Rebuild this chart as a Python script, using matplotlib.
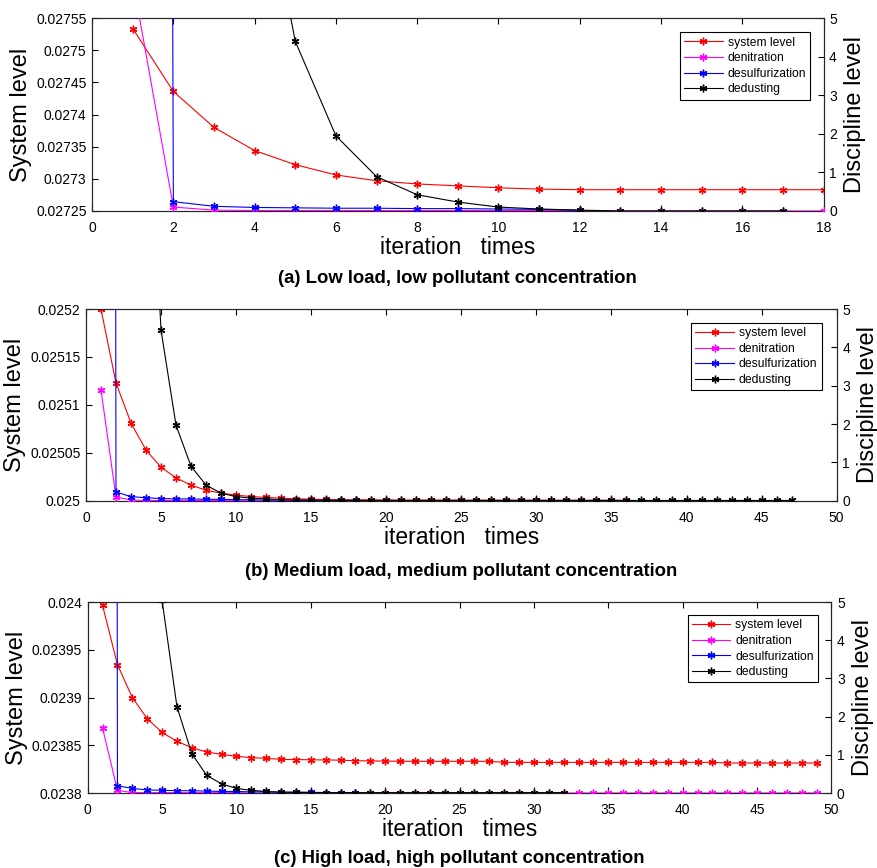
import matplotlib
matplotlib.use("Agg")
import matplotlib.pyplot as plt
import numpy as np
from matplotlib.ticker import FuncFormatter

plt.rcParams["font.family"] = ["Liberation Sans", "DejaVu Sans"]

# ---- panel (a): low load, low pollutant concentration
sys_a = [0.027534, 0.027436, 0.02738, 0.027344, 0.027322, 0.027306, 0.027297, 0.027292, 0.027289,
         0.027286, 0.027284, 0.027283, 0.027283, 0.027283, 0.027283, 0.027283, 0.027283, 0.027283]
den_a = [6.0, 0.1, 0.02, 0.01, 0.01, 0.01, 0.01, 0.01, 0.01, 0.01, 0.01, 0.01, 0.0, 0.0, 0.0, 0.0, 0.0, 0.0]
des_a = [300, 0.24, 0.12, 0.09, 0.08, 0.07, 0.07, 0.06, 0.06, 0.05, 0.04, 0.02]
ded_a = [60, 32, 17, 9.9, 4.4, 1.95, 0.89, 0.42, 0.23, 0.1, 0.05, 0.02, 0.0, 0.0, 0.0, 0.0, 0.0]

# ---- panel (b): medium load, medium pollutant concentration
sys_b = [0.02520, 0.025123, 0.025081, 0.025053, 0.025035, 0.025024, 0.0250163, 0.0250111, 0.025008,
         0.0250059, 0.0250045, 0.0250035, 0.0250028, 0.0250021, 0.0250017, 0.0250014, 0.0250012,
         0.0250011, 0.025001, 0.0250009, 0.0250008, 0.0250008, 0.0250008, 0.0250008, 0.0250008,
         0.0250007, 0.0250007, 0.0250007, 0.0250007, 0.0250007, 0.0250006, 0.0250006, 0.0250006,
         0.0250006, 0.0250006, 0.0250006]
den_b = [2.9, 0.1, 0.02, 0.01, 0.01, 0.01, 0.01, 0.01, 0.01, 0.0, 0.0, 0.0, 0.0, 0.0, 0.0, 0.0]
des_b = [300, 0.23, 0.11, 0.08, 0.06, 0.05, 0.05, 0.04, 0.04, 0.03, 0.03, 0.02, 0.02, 0.02, 0.01, 0.01, 0.01, 0.01]
ded_b = [70, 40, 22, 12, 4.45, 1.97, 0.9, 0.41, 0.2, 0.11, 0.07, 0.05, 0.03, 0.02, 0.02, 0.01, 0.01,
         0.01, 0.01, 0.01, 0.01, 0.01, 0.01, 0.01, 0.01, 0.01, 0.01, 0.01, 0.01, 0.01, 0.01, 0.01,
         0.01, 0.01, 0.01, 0.01, 0.01, 0.01, 0.01, 0.01, 0.01, 0.01, 0.01, 0.01, 0.01, 0.01, 0.01]

# ---- panel (c): high load, high pollutant concentration
sys_c = [0.0239965, 0.0239344, 0.0239, 0.0238778, 0.0238635, 0.0238541, 0.0238475, 0.0238429, 0.0238405,
         0.0238384, 0.023837, 0.0238363, 0.0238352, 0.023835, 0.0238348, 0.0238346, 0.0238344, 0.0238338,
         0.0238336, 0.0238334, 0.0238332, 0.0238332, 0.0238332, 0.0238332, 0.0238332, 0.0238332, 0.0238332,
         0.0238321, 0.0238321, 0.0238321, 0.0238321, 0.0238321, 0.0238321, 0.0238321, 0.0238321, 0.0238321,
         0.0238321, 0.0238321, 0.0238321, 0.0238321, 0.0238321, 0.0238321, 0.0238314, 0.0238314, 0.0238314,
         0.0238314, 0.0238314, 0.0238314, 0.0238314]
den_c = [1.7, 0.07] + [0.01] * 8 + [0.0] * 39
des_c = [300, 0.19, 0.12, 0.08, 0.07, 0.06, 0.06, 0.05, 0.04, 0.04, 0.03, 0.03, 0.02, 0.02, 0.02, 0.01, 0.01, 0.01]
ded_c = [80, 45, 24, 12, 5.05, 2.26, 1.03, 0.46, 0.24, 0.12, 0.07, 0.04, 0.02, 0.02] + [0.01] * 18

titles = ["(a) Low load, low pollutant concentration",
          "(b) Medium load, medium pollutant concentration",
          "(c) High load, high pollutant concentration"]
labels = ["system level", "denitration", "desulfurization", "dedusting"]

panels = [
    dict(data=[sys_a, den_a, des_a, ded_a], ylim=(0.02725, 0.02755), yticks=np.arange(0.02725, 0.02756, 0.00005),
         xlim=(0, 18), xticks=np.arange(0, 19, 2), pos=[0.105, 0.757, 0.834, 0.222],
         leg=(0.982, 0.927), title_y=0.669),
    dict(data=[sys_b, den_b, des_b, ded_b], ylim=(0.025, 0.0252), yticks=np.arange(0.025, 0.02521, 0.00005),
         xlim=(0, 50), xticks=np.arange(0, 51, 5), pos=[0.098, 0.423, 0.856, 0.221],
         leg=(0.980, 0.927), title_y=0.332),
    dict(data=[sys_c, den_c, des_c, ded_c], ylim=(0.0238, 0.024), yticks=np.arange(0.0238, 0.02401, 0.00005),
         xlim=(0, 50), xticks=np.arange(0, 51, 5), pos=[0.100, 0.0864, 0.848, 0.220],
         leg=(0.982, 0.932), title_y=0.001),
]

colors = ["#ff0000", "#ff00ff", "#0000ff", "#000000"]
axcol = "#262626"
star = (6, 2, 0)  # asterisk marker, like MATLAB '*'

fig = plt.figure(figsize=(8.77, 8.68), dpi=100)

for p, title in zip(panels, titles):
    ax = fig.add_axes(p["pos"])
    ax2 = ax.twinx()
    handles = []
    for i, (series, c, lab) in enumerate(zip(p["data"], colors, labels)):
        x = np.arange(1, len(series) + 1)
        target = ax if i == 0 else ax2
        h, = target.plot(x, series, color=c, marker=star, markersize=5.5, markeredgewidth=1.0,
                         linewidth=0.8, label=lab, zorder=2 + i)
        handles.append(h)

    ax.set_xlim(*p["xlim"])
    ax.set_xticks(p["xticks"])
    ax.set_ylim(*p["ylim"])
    ax.set_yticks(p["yticks"])
    ax.yaxis.set_major_formatter(FuncFormatter(lambda v, _: f"{round(v, 6):g}"))
    ax2.set_ylim(0, 5)
    ax2.set_yticks(np.arange(0, 6, 1))

    for a in (ax, ax2):
        a.tick_params(direction="in", length=4, width=0.8, labelsize=10, colors="black", top=True, pad=4)
        a.tick_params(axis="x", pad=7)
        for s in a.spines.values():
            s.set_color(axcol)
            s.set_linewidth(0.8)
    ax.tick_params(axis="y", right=False)
    ax.set_xlabel("iteration   times", fontsize=16.5, labelpad=1)
    ax.set_ylabel("System level", fontsize=17, labelpad=3)
    ax2.set_ylabel("Discipline level", fontsize=17, labelpad=5)

    leg = ax2.legend(handles, labels, loc="upper right", bbox_to_anchor=p["leg"], borderaxespad=0,
                     fontsize=8.7, fancybox=False, edgecolor="black", framealpha=1,
                     handlelength=3.2, handletextpad=0.4, labelspacing=0.3, numpoints=1, borderpad=0.35)
    leg.get_frame().set_linewidth(0.8)

    cx = p["pos"][0] + p["pos"][2] / 2
    fig.text(cx, p["title_y"], title, ha="center", va="bottom", fontsize=13.3, fontweight="bold")

fig.savefig("out.png", dpi=100)
